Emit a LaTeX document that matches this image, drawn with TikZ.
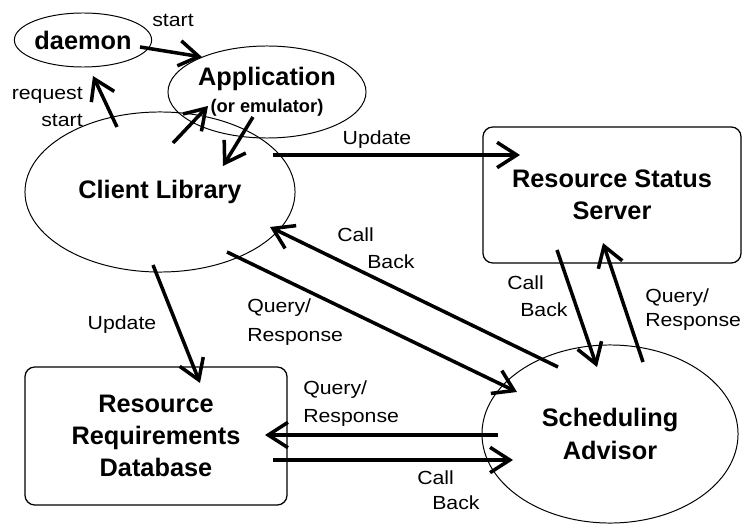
\documentclass[tikz,border=0pt]{standalone}
\usepackage{fontspec}
\setmainfont{Liberation Sans}
\newfontfamily\lblfont[FakeStretch=1.12]{Liberation Sans}
\usetikzlibrary{shapes.geometric,arrows.meta}

\tikzset{
	blob/.style={draw,line width=0.7pt,ellipse,inner sep=0pt,align=center,
		font=\fontsize{18}{23}\selectfont\bfseries},
	box/.style={draw,line width=0.9pt,rectangle,rounded corners=7pt,inner sep=0pt,align=center,
		font=\fontsize{18}{23}\selectfont\bfseries},
	lbl/.style={inner sep=0pt,font=\fontsize{13.5}{15}\selectfont\lblfont},
	flow/.style={line width=2.5pt,-{Straight Barb[length=14pt,width=18pt]}}
}

\begin{document}
\begin{tikzpicture}[x=0.025cm,y=-0.025cm]
	
	\useasboundingbox (0,0) rectangle (742,525);
	
	\node[blob,minimum width=3.4cm,minimum height=1.35cm] (daemon) at (83,40) {daemon};
	\node[blob,minimum width=4.95cm,minimum height=2.3cm] (app) at (267,92) {Application\\[-4pt]{\fontsize{13}{15}\selectfont (or emulator)}};
	\node[blob,minimum width=6.75cm,minimum height=4cm] (client) at (160,192) {Client Library};
	\node[blob,minimum width=6.4cm,minimum height=4.45cm] (sa) at (610,434) {Scheduling\\Advisor};
	\node[box,minimum width=6.45cm,minimum height=3.4cm] (rss) at (612,195) {Resource Status\\Server};
	\node[box,minimum width=6.55cm,minimum height=3.45cm] (rrd) at (156,436) {Resource\\Requirements\\Database};
	
	% arrow ends
	\coordinate (d1) at (140,47);  \coordinate (a1) at (202,57);
	\coordinate (c1) at (117,127); \coordinate (d2) at (93,76);
	\coordinate (c2) at (173,143); \coordinate (a2) at (208,106);
	\coordinate (a3) at (253,117); \coordinate (c3) at (223,166);
	\coordinate (c4) at (273,155); \coordinate (r1) at (520,155);
	\coordinate (r2) at (557,250); \coordinate (s1) at (597,367);
	\coordinate (s2) at (643,362); \coordinate (r3) at (603,243);
	\coordinate (s3) at (558,367); \coordinate (c5) at (270,227);
	\coordinate (c6) at (227,252); \coordinate (s4) at (517,392);
	\coordinate (s5) at (498,435); \coordinate (q1) at (265,435);
	\coordinate (q2) at (273,460); \coordinate (s6) at (513,460);
	\coordinate (c7) at (153,265); \coordinate (q3) at (200,383);
	
	\draw[flow] (d1) -- (a1);
	\draw[flow] (c1) -- (d2);
	\draw[flow] (c2) -- (a2);
	\draw[flow] (a3) -- (c3);
	\draw[flow] (c4) -- (r1);
	\draw[flow] (r2) -- (s1);
	\draw[flow] (s2) -- (r3);
	\draw[flow] (s3) -- (c5);
	\draw[flow] (c6) -- (s4);
	\draw[flow] (s5) -- (q1);
	\draw[flow] (q2) -- (s6);
	\draw[flow] (c7) -- (q3);
	
	\node[lbl] (lstart) at (173,20) {start};
	\node[lbl,anchor=east] (lreq) at (83,95) {request};
	\node[lbl,anchor=east] (lreqb) at (83,120) {start};
	\node[lbl] (lupd) at (377,140) {Update};
	\node[lbl,anchor=west] (lcb1) at (507,283) {Call};
	\node[lbl,anchor=west] (lcb1b) at (520,310) {Back};
	\node[lbl,anchor=west] (lqr1) at (645,298) {Query/};
	\node[lbl,anchor=west] (lqr1b) at (645,322) {Response};
	\node[lbl,anchor=west] (lcb2) at (337,235) {Call};
	\node[lbl,anchor=west] (lcb2b) at (367,262) {Back};
	\node[lbl,anchor=west] (lqr2) at (247,308) {Query/};
	\node[lbl,anchor=west] (lqr2b) at (247,337) {Response};
	\node[lbl,anchor=west] (lqr3) at (303,390) {Query/};
	\node[lbl,anchor=west] (lqr3b) at (303,418) {Response};
	\node[lbl,anchor=west] (lcb3) at (417,478) {Call};
	\node[lbl,anchor=west] (lcb3b) at (432,503) {Back};
	\node[lbl] (lupd2) at (122,325) {Update};
	
\end{tikzpicture}
\end{document}
